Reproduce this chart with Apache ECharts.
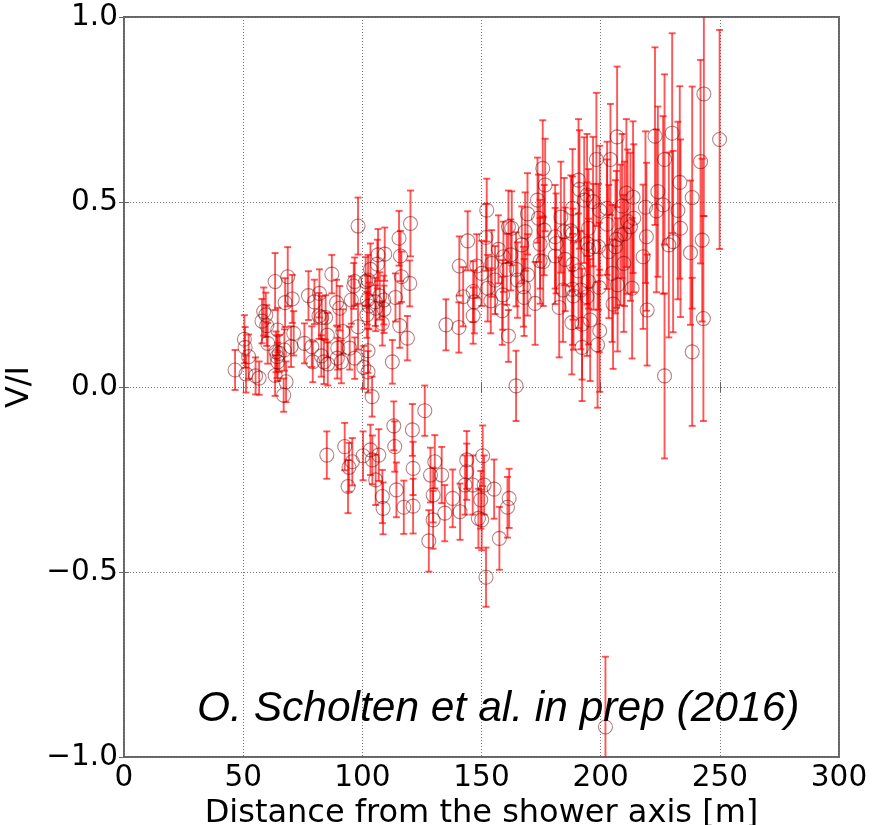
<!DOCTYPE html>
<html><head><meta charset="utf-8">
<script src="https://cdn.jsdelivr.net/npm/echarts@6/dist/echarts.min.js"></script>
<style>html,body{margin:0;padding:0;background:#fff}#c{width:873px;height:825px}</style>
</head><body><div id="c"></div>
<script>
// Distance from the shower axis [m]
const distance = [
46.6,50.5,50.8,52.3,51.2,55.2,56.7,58.6,57.9,59.5,59.9,63.4,64.5,63.8,64.2,64.5,63.4,68.0,67.0,68.7,
67.6,70.6,71.2,70.1,67.3,65.2,75.7,77.4,78.8,82.0,79.9,81.8,83.0,84.6,85.3,79.2,82.8,83.9,85.5,87.2,
89.2,90.5,89.7,89.5,60.3,
98.2,120.2,115.4,116.0,116.4,119.9,113.9,115.7,118.9,112.6,106.6,109.4,106.3,103.4,102.4,101.4,96.8,96.4,95.4,102.1,
102.8,105.5,107.3,109.0,105.6,109.1,101.9,108.4,98.2,102.4,100.6,102.4,104.1,94.7,96.8,91.2,91.8,135.1,126.2,
85.1,92.6,94.4,95.8,94.0,100.3,103.4,104.2,106.9,105.6,108.4,108.7,113.2,113.6,114.3,117.4,121.0,121.3,121.3,130.4,
128.6,133.3,129.7,129.7,127.9,134.6,137.9,141.0,143.1,143.8,143.8,146.3,150.5,151.1,149.7,148.7,150.1,151.9,155.3,157.5,
161.6,160.9,
140.5,140.7,144.2,142.3,146.5,147.0,146.5,148.0,150.1,152.2,151.9,152.6,153.9,154.3,155.7,157.1,159.2,158.9,158.7,160.6,
161.3,161.3,162.7,162.3,164.5,165.1,164.5,166.9,168.3,167.6,167.9,169.3,169.3,172.5,173.5,173.9,174.6,174.6,176.3,176.7,
175.7,175.9,180.9,181.3,180.9,183.3,184.7,185.1,184.2,182.6,187.5,188.2,188.2,188.4,188.2,188.6,187.9,190.7,191.1,190.7,
191.7,192.2,192.2,193.1,194.3,194.9,194.3,194.9,194.9,194.3,195.6,196.8,197.0,198.2,199.6,199.1,199.4,199.6,198.7,202.7,
202.7,204.1,203.4,204.8,206.2,206.6,207.1,205.2,206.9,209.0,208.3,209.7,210.0,210.8,211.3,212.5,213.6,213.9,213.2,218.8,
219.2,217.8,219.5,222.8,224.0,223.4,226.2,226.8,226.8,228.6,230.0,230.4,232.4,233.2,233.5,237.7,238.4,238.4,241.9,242.6,
243.1,243.3,249.9,202.0
];
// V/I values
const ratio = [
0.046,0.129,0.107,0.082,0.035,0.030,0.024,0.204,0.178,0.195,0.166,0.285,0.154,0.095,0.082,0.068,0.031,0.014,-0.022,0.298,
0.228,0.238,0.145,0.109,0.100,0.091,0.118,0.247,0.109,0.253,0.230,0.192,0.188,0.188,0.140,0.068,0.084,0.068,0.062,0.305,
0.228,0.213,0.105,0.078,0.118,
0.435,0.442,0.402,0.354,0.298,0.280,0.242,0.166,0.132,0.068,0.357,0.359,0.332,0.318,0.289,0.285,0.285,0.273,0.235,0.235,
0.219,0.230,0.246,0.235,0.213,0.210,0.195,0.172,0.163,0.098,0.053,0.041,-0.026,0.105,0.078,0.068,0.150,0.168,-0.064,
-0.184,-0.161,-0.217,-0.202,-0.269,-0.186,-0.170,-0.197,-0.184,-0.251,-0.296,-0.328,-0.105,-0.161,-0.278,-0.325,-0.116,-0.220,-0.322,-0.202,
-0.238,-0.238,-0.292,-0.359,-0.416,-0.341,-0.301,-0.337,-0.265,-0.197,-0.229,-0.265,-0.186,-0.265,-0.305,-0.355,-0.359,-0.514,-0.276,-0.409,
-0.301,-0.325,
0.161,0.327,0.395,0.244,0.258,0.230,0.193,0.327,0.307,0.478,0.404,0.267,0.233,0.334,0.289,0.372,0.352,0.249,0.206,0.318,
0.138,0.433,0.429,0.357,0.318,0.289,0.003,0.384,0.420,0.271,0.242,0.303,0.468,0.226,0.505,0.456,0.386,0.341,0.424,0.546,
0.591,0.339,0.406,0.388,0.354,0.459,0.420,0.345,0.262,0.215,0.422,0.414,0.483,0.332,0.264,0.246,0.174,0.559,0.534,0.314,
0.262,0.170,0.107,0.505,0.519,0.429,0.388,0.372,0.285,0.244,0.181,0.501,0.379,0.615,0.477,0.379,0.269,0.152,0.114,0.483,
0.440,0.615,0.366,0.307,0.379,0.399,0.276,0.224,0.676,0.489,0.411,0.334,0.414,0.524,0.447,0.433,0.513,0.456,0.267,0.486,
0.406,0.352,0.208,0.678,0.528,0.476,0.492,0.615,0.030,0.384,0.686,0.393,0.477,0.553,0.429,0.363,0.512,0.095,0.609,0.397,
0.185,0.792,0.669,-0.919
];
// symmetric error of V/I
const errors = [
0.054,0.065,0.055,0.060,0.050,0.050,0.045,0.065,0.060,0.060,0.055,0.077,0.060,0.055,0.058,0.052,0.055,0.055,0.045,0.080,
0.066,0.065,0.060,0.055,0.056,0.050,0.054,0.066,0.055,0.065,0.060,0.062,0.058,0.060,0.060,0.055,0.056,0.060,0.058,0.052,
0.062,0.060,0.058,0.055,0.055,
0.077,0.089,0.074,0.068,0.068,0.062,0.065,0.060,0.060,0.059,0.070,0.072,0.066,0.070,0.068,0.066,0.065,0.062,0.064,0.066,
0.063,0.065,0.064,0.066,0.062,0.064,0.062,0.060,0.062,0.060,0.058,0.056,0.054,0.058,0.056,0.058,0.060,0.069,0.068,
0.064,0.064,0.066,0.064,0.072,0.066,0.068,0.066,0.070,0.068,0.072,0.070,0.066,0.068,0.074,0.072,0.070,0.072,0.074,0.072,
0.074,0.076,0.074,0.078,0.083,0.076,0.078,0.076,0.080,0.078,0.076,0.080,0.082,0.080,0.078,0.080,0.082,0.080,0.080,0.085,
0.080,0.082,
0.068,0.080,0.080,0.080,0.082,0.085,0.076,0.086,0.088,0.085,0.090,0.090,0.088,0.090,0.092,0.092,0.095,0.094,0.092,0.096,
0.070,0.098,0.100,0.096,0.100,0.102,0.095,0.104,0.106,0.108,0.104,0.110,0.110,0.112,0.115,0.118,0.120,0.116,0.122,0.125,
0.130,0.120,0.140,0.135,0.130,0.150,0.145,0.140,0.140,0.135,0.150,0.155,0.160,0.150,0.150,0.145,0.140,0.165,0.160,0.155,
0.160,0.150,0.145,0.170,0.165,0.160,0.165,0.160,0.170,0.160,0.165,0.175,0.170,0.180,0.175,0.170,0.175,0.165,0.170,0.180,
0.175,0.150,0.180,0.185,0.180,0.185,0.180,0.175,0.190,0.195,0.190,0.185,0.195,0.200,0.195,0.200,0.205,0.200,0.190,0.205,
0.200,0.195,0.150,0.240,0.230,0.220,0.240,0.230,0.223,0.250,0.270,0.245,0.240,0.260,0.240,0.195,0.300,0.200,0.275,0.220,
0.277,0.330,0.296,0.190
];
const xTicks = [0, 50, 100, 150, 200, 250, 300];
const yTicks = [-1.0, -0.5, 0.0, 0.5, 1.0];
const xTitle = 'Distance from the shower axis [m]';
const yTitle = 'V/I';
const note = 'O. Scholten et al. in prep (2016)';

const errData = distance.map((d, i) => [d, ratio[i] - errors[i], ratio[i] + errors[i]]);
const ptData = distance.map((d, i) => [d, ratio[i]]);

const chart = echarts.init(document.getElementById('c'), null, {renderer: 'canvas'});
const barStyle = {stroke: 'rgba(255,0,0,0.66)', lineWidth: 1.9, fill: null};
function renderErr(params, api) {
  const x = api.value(0), lo = api.value(1), hi = api.value(2);
  const a = api.coord([x, hi]), b = api.coord([x, lo]);
  const c = 3.5;
  return {type: 'group', children: [
    {type: 'line', shape: {x1: a[0], y1: a[1], x2: b[0], y2: b[1]}, style: barStyle},
    {type: 'line', shape: {x1: a[0] - c, y1: a[1], x2: a[0] + c, y2: a[1]}, style: barStyle},
    {type: 'line', shape: {x1: b[0] - c, y1: b[1], x2: b[0] + c, y2: b[1]}, style: barStyle}
  ]};
}
const fontFam = '"DejaVu Sans", sans-serif';
const fmtY = v => (v < 0 ? '\u2212' : '') + Math.abs(v).toFixed(1);
const tickCommon = {show: true, inside: true, length: 5, lineStyle: {color: '#666', width: 1}};
chart.setOption({
  animation: false,
  backgroundColor: '#fff',
  grid: {left: 124, right: 34, top: 17, bottom: 68, show: true, borderColor: '#666', borderWidth: 2,
         backgroundColor: 'transparent', containLabel: false, outerBoundsMode: 'none'},
  xAxis: [{
    type: 'value', min: xTicks[0], max: xTicks[xTicks.length - 1], interval: 50,
    name: xTitle, nameLocation: 'middle', nameGap: 43,
    nameTextStyle: {fontFamily: fontFam, fontSize: 32, color: '#000', verticalAlign: 'middle'},
    axisLine: {show: false}, axisTick: tickCommon,
    axisLabel: {fontFamily: fontFam, fontSize: 29.5, color: '#000', margin: 6},
    splitLine: {show: true, lineStyle: {color: '#777', type: [1, 2], width: 1}}
  }, {
    type: 'value', position: 'top', min: xTicks[0], max: xTicks[xTicks.length - 1], interval: 50,
    axisLine: {show: false}, axisTick: tickCommon, axisLabel: {show: false}, splitLine: {show: false}
  }],
  yAxis: [{
    type: 'value', min: yTicks[0], max: yTicks[yTicks.length - 1], interval: 0.5,
    name: yTitle, nameLocation: 'middle', nameGap: 98,
    nameTextStyle: {fontFamily: fontFam, fontSize: 32, color: '#000', verticalAlign: 'middle'},
    axisLine: {show: false}, axisTick: tickCommon,
    axisLabel: {fontFamily: fontFam, fontSize: 29.5, color: '#000', margin: 6, formatter: fmtY},
    splitLine: {show: true, lineStyle: {color: '#777', type: [1, 2], width: 1}}
  }, {
    type: 'value', position: 'right', min: yTicks[0], max: yTicks[yTicks.length - 1], interval: 0.5,
    axisLine: {show: false}, axisTick: tickCommon, axisLabel: {show: false}, splitLine: {show: false}
  }],
  graphic: [{
    type: 'text', left: 197, top: 688, z: 100,
    style: {text: note, font: 'italic 42.5px "Liberation Sans", Arial, sans-serif', fill: '#000'}
  }],
  series: [{
    type: 'custom', renderItem: renderErr, data: errData, clip: true,
    encode: {x: 0, y: [1, 2]}, silent: true, z: 2
  }, {
    type: 'scatter', data: ptData, symbol: 'circle', symbolSize: 14, silent: true, z: 3,
    itemStyle: {color: 'rgba(0,0,0,0)', borderColor: 'rgba(115,0,0,0.62)', borderWidth: 1.1},
    emphasis: {disabled: true}
  }]
});
</script></body></html>
